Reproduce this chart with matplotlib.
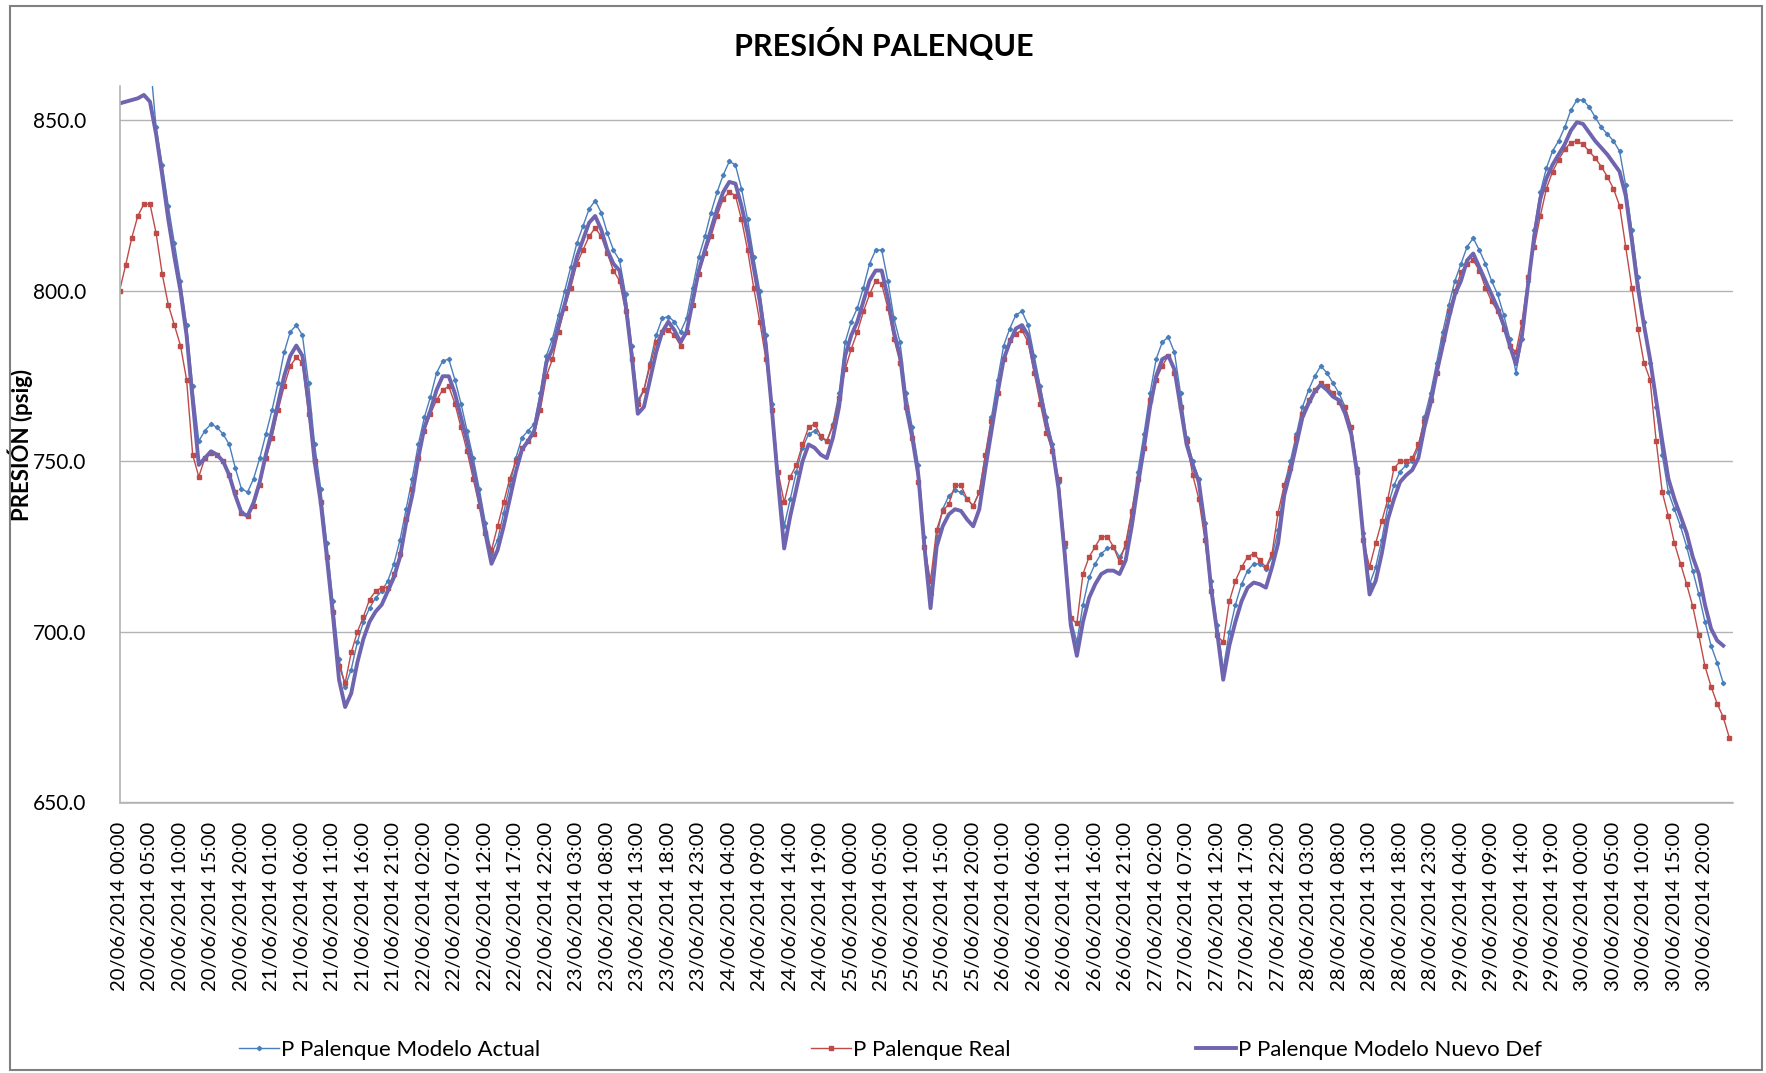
import numpy as np
import pandas as pd
import matplotlib
matplotlib.use('Agg')
import matplotlib.pyplot as plt
from matplotlib.patches import Rectangle

# hourly series, 20/06/2014 00:00 onwards
modelo_actual = [
    880, 880, 880, 880, 880, 868, 848, 837, 825, 814,
    803, 790, 772, 756, 759, 761, 760, 758, 755, 748,
    742, 741, 745, 751, 758, 765, 773, 782, 788, 790,
    787, 773, 755, 742, 726, 709, 692, 684, 689, 697,
    703, 707, 710, 712, 715, 720, 727, 736, 745, 755,
    763, 769, 776, 779.5, 780, 774, 767, 759, 751, 742,
    732, 723, 727, 735, 743, 751, 757, 759, 761, 770,
    781, 786, 793, 800, 807, 814, 819, 824, 826.5, 823,
    817, 812, 809, 799, 784, 768, 771, 779, 787, 792,
    792.5, 791, 788, 792, 801, 810, 816, 823, 829, 834,
    838, 837, 830, 821, 810, 800, 787, 767, 747, 731,
    739, 747, 754, 758, 759, 757, 756, 761, 770, 785,
    791, 795, 801, 808, 812, 812, 803, 792, 785, 770,
    760, 749, 728, 711, 728, 736, 740, 741.5, 741, 739,
    737, 741, 752, 763, 774, 784, 789, 793, 794, 790,
    781, 772, 763, 755, 744, 725, 704, 697, 708, 716,
    720, 723, 724.5, 725, 722, 725, 735, 747, 758, 770,
    780, 785, 786.5, 782, 770, 757, 750, 745, 732, 715,
    702, 689, 700, 708, 714, 718, 720, 720, 718.5, 722,
    730, 743, 750, 758, 766, 771, 775, 778, 776, 773,
    770, 766, 760, 748, 729, 714, 719, 727, 737, 743,
    747, 749, 750, 754, 763, 770, 779, 788, 796, 803,
    808, 813, 815.5, 812, 808, 803, 799, 793, 786, 776,
    786, 803, 818, 829, 836, 841, 844, 848, 853, 856,
    856, 854, 851, 848, 846, 844, 841, 831, 818, 804,
    791, 779, 766, 752, 741, 736, 731, 725, 718, 711,
    703, 696, 691, 685, np.nan,
]

real = [
    800, 807.5, 815.5, 822, 825.5, 825.5, 817, 805, 796, 790,
    784, 774, 752, 745.5, 751, 752.5, 752, 750, 746, 741,
    735, 734, 737, 743, 751, 757, 765, 772, 778, 780.5,
    779, 764, 750, 738, 722, 706, 690, 685, 694, 700,
    704.5, 709.5, 712, 713, 713, 717, 723, 733, 742, 751,
    759, 764, 768, 771, 772, 767, 760, 753, 745, 737,
    729, 724, 731, 738, 745, 750, 754, 756, 758, 765,
    775, 780, 788, 795, 801, 808, 812, 816, 818.5, 816,
    811, 806, 803, 794, 780, 767, 771, 778, 785, 788,
    788.5, 787, 784, 788, 796, 805, 811, 816, 822, 827,
    829, 828, 821, 812, 801, 791, 780, 765, 747, 738,
    745.5, 749, 755, 760, 761, 757.5, 756, 760.5, 768.5, 777,
    783, 788, 794, 799, 803, 802, 795, 786, 779, 766,
    757, 744, 725, 715, 730, 735.5, 737.5, 743, 743, 739,
    737, 741, 752, 762, 770, 780, 785.5, 787.5, 788.5, 785,
    776, 767, 758.5, 753, 745, 726, 704, 702.5, 717, 722,
    725, 728, 728, 725, 720.5, 726, 735.5, 745, 754, 768,
    774, 778, 781, 776, 766, 756, 746, 739, 727, 712,
    699, 697, 709, 715, 719, 722, 723, 721, 719, 723,
    735, 743, 748, 757, 764, 768, 771, 773, 772, 770,
    767.5, 766, 760, 747, 727, 719, 726, 732.5, 739, 748,
    750, 750, 751, 755, 762, 768, 776, 786, 794, 800,
    805.5, 808, 809, 806, 801, 797, 794, 789, 784, 782,
    791, 804, 813, 822, 830, 835, 838.5, 841.5, 843.5, 844,
    843, 841, 839, 836.5, 833.5, 830, 825, 813, 801, 789,
    779, 774, 756, 741, 734, 726, 720, 714, 707.5, 699,
    690, 684, 679, 675, 669,
]

modelo_nuevo = [
    855, 855.5, 856, 856.5, 857.5, 855.5, 846, 834, 821, 810,
    800, 787, 768, 749, 751, 753, 752, 750, 746, 740,
    735, 734, 738, 744, 752, 759, 767, 775, 781, 784,
    781, 767, 750, 738, 722, 705, 686, 678, 682, 691,
    698, 703, 706, 708, 712, 716, 722, 732, 740, 751,
    760, 765, 771, 775, 775, 770, 763, 756, 748, 739,
    729, 720, 724, 731, 739, 747, 753.5, 756, 759, 768,
    779, 783, 790, 796, 803, 810, 815, 820, 822, 818,
    812, 808, 806, 796, 781, 764, 766, 774, 782, 788,
    791, 788.5, 785, 788, 797, 806, 812, 818, 824, 829,
    832, 831.5, 825, 817, 807, 797, 784, 765, 744, 724.5,
    734, 742, 750, 755, 754, 752, 751, 757, 766, 781,
    787, 791, 797, 803, 806, 806, 798, 788, 781, 766,
    757, 746, 725, 707, 725, 731, 734.5, 736, 735.5, 733,
    731, 736, 748, 759, 770, 780, 785, 789, 790, 787,
    778, 770, 761, 754, 742, 723, 702, 693, 703, 710,
    714, 717, 718, 718, 717, 721, 731, 743, 754, 766,
    775, 780, 781, 777, 766, 755, 749, 744, 731, 713,
    700, 686, 696, 703, 709, 713, 714.5, 714, 713, 719,
    726, 740, 747, 755, 763, 767, 770.5, 772.5, 771, 769,
    768, 764, 758, 746, 727.5, 711, 715, 723, 733, 739,
    744, 746, 747.5, 751, 760, 767, 776, 784, 792, 799,
    803, 809, 811, 807, 803, 799, 795, 790, 784, 778.5,
    787, 802, 816, 827, 833, 837, 840, 843, 847, 849.5,
    849, 846.5, 844, 842, 840, 837.5, 835, 828, 815, 801,
    790, 780, 768, 756, 745, 739, 734, 729, 722, 717,
    708, 701, 697.5, 696, np.nan,
]

horas = pd.date_range('2014-06-20 00:00', periods=len(real), freq='h')
etiquetas = [h.strftime('%d/%m/%Y %H:%M') for h in horas]
x = np.arange(len(real))

plt.rcParams['font.family'] = ['Lato', 'DejaVu Sans']

W, H = 1766, 1073
fig = plt.figure(figsize=(W / 100, H / 100), dpi=100)
ax = fig.add_axes([119.5 / W, 1 - 802.5 / H, (1733 - 119.5) / W, (802.5 - 86.4) / H])

c_actual = '#4a7ebb'
c_real = '#be4b48'
c_nuevo = '#6f64b0'

l1, = ax.plot(x, modelo_actual, color=c_actual, lw=1.0, marker='D', ms=2.2,
              mec=c_actual, mfc=c_actual, label='P Palenque Modelo Actual')
l2, = ax.plot(x, real, color=c_real, lw=1.0, marker='s', ms=2.2,
              mec=c_real, mfc=c_real, label='P Palenque Real')
l3, = ax.plot(x, modelo_nuevo, color=c_nuevo, lw=2.8, label='P Palenque Modelo Nuevo Def')

ax.set_ylim(650, 860)
ax.set_xlim(0, 264.6)
ax.set_yticks([650, 700, 750, 800, 850])
ax.set_yticklabels(['%.1f' % v for v in [650, 700, 750, 800, 850]])
ax.yaxis.grid(True, color='#b3b3b3', lw=1.0)
ax.set_axisbelow(True)

ticks = x[::5]
ax.set_xticks(ticks)
ax.set_xticklabels([etiquetas[i] for i in ticks], rotation=90)
ax.tick_params(axis='x', length=0, pad=14, labelsize=14.5, colors='#000000')
ax.tick_params(axis='y', length=0, pad=24, labelsize=15, colors='#000000')

for s in ['top', 'right']:
    ax.spines[s].set_visible(False)
for s in ['left', 'bottom']:
    ax.spines[s].set_color('#b3b3b3')
    ax.spines[s].set_linewidth(1.2)

ax.set_ylabel('PRESIÓN (psig)', fontsize=16, fontweight='bold')
ax.yaxis.set_label_coords((33 - 119.5) / (1733 - 119.5), 0.5)

fig.text(884 / W, 1 - 45 / H, 'PRESIÓN PALENQUE', ha='center', va='center',
         fontsize=22, fontweight='bold')

for h, x0 in [(l1, 239), (l2, 811), (l3, 1196)]:
    fig.legend(handles=[h], loc='center left', bbox_to_anchor=(x0 / W, 1 - 1050 / H),
               frameon=False, borderpad=0, borderaxespad=0, handlelength=1.8,
               handletextpad=0.1, fontsize=16)

fig.patches.append(Rectangle((10 / W, 3 / H), (1762 - 10) / W, (1067 - 3) / H,
                             transform=fig.transFigure, fill=False,
                             edgecolor='#808080', lw=1.5))

fig.savefig('out.png', dpi=100)
